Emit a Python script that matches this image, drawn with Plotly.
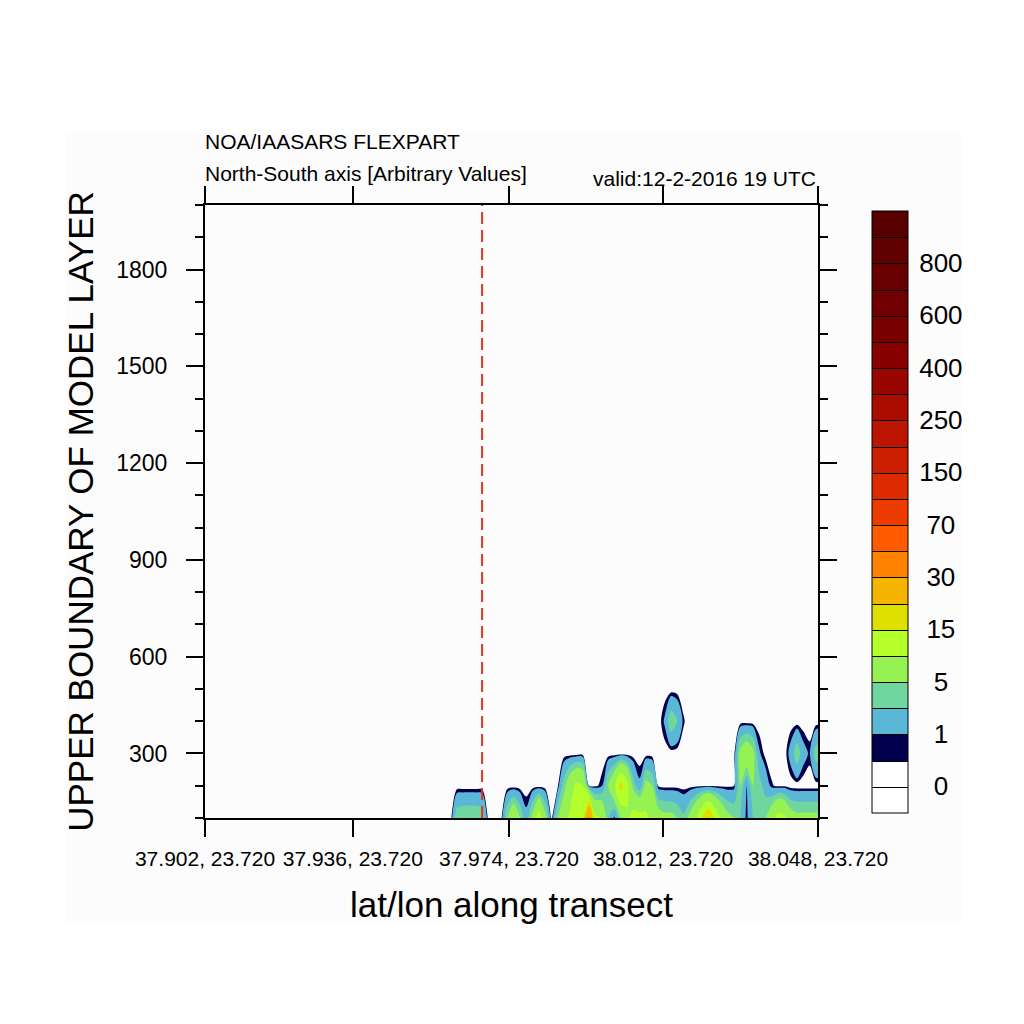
import numpy as np
import plotly.graph_objects as go

# FLEXPART vertical cross-section along a N-S transect (lon 23.720)
# concentration levels used for the shading and the colour of each band
levels = [0, 0.5, 1, 3, 5, 10, 15, 20, 30, 50, 70, 100, 150, 200, 250,
          300, 400, 500, 600, 700, 800, 900]
band_colors = ["#FFFFFF", "#FFFFFF", "#02004C", "#5AB8D6", "#6FD6A0", "#95F252",
               "#B5FF2A", "#E0E000", "#F5B400", "#FF8200", "#FF5A00", "#EE3C00",
               "#DD2A00", "#CC1E00", "#BB1400", "#AA0C00", "#990600", "#880000",
               "#7A0000", "#700000", "#680000", "#600000", "#580000"]
cbar_labels = ["0", "1", "5", "15", "30", "70", "150", "250", "400", "600", "800"]

# labelled transect points: printed lat/lon and the lat where each one sits
tick_text_lat = [37.902, 37.936, 37.974, 38.012, 38.048]
tick_lat = [37.902, 37.9372, 37.9744, 38.0111, 38.048]
lon_transect = 23.720
source_lat = 37.968  # dashed marker

# transect sampling (every 0.0015 deg lat), only the part that holds particles
transect_lat = np.round(37.959 + 0.0015 * np.arange(61), 4)
layer_top = [100, 200, 300, 400, 500]

conc_100 = [0, 0, 4.5, 4.8, 4.9, 4.8, 4.5, 0, 0, 0,
            5, 9, 5, 1.5, 6, 13, 6, 0, 5, 8,
            11, 13, 14, 32, 11, 10, 3, 0.6, 5, 9,
            12, 12, 11, 8, 7, 6, 6, 5, 3.5, 6,
            10, 16, 21, 14, 9, 6, 5, 3, 0.6, 3,
            4.5, 5, 8, 12, 11, 7, 6, 6, 6, 6,
            6]
conc_200 = [0, 0, 0, 0, 0, 0, 0, 0, 0, 0,
            0, 0, 0, 0, 0, 0, 0, 0, 0.3, 4,
            8, 11, 10, 0.3, 0.3, 0.8, 5, 9, 17, 12,
            4, 1.3, 6, 5, 0.3, 0.2, 0.2, 0.2, 0.1, 0.2,
            0.3, 0.3, 0.3, 0.3, 0.3, 0.3, 0.5, 5, 0.8, 5,
            4, 2, 0.6, 0.3, 0.3, 0, 0, 0, 0, 0,
            0]
conc_300 = [0, 0, 0, 0, 0, 0, 0, 0, 0, 0,
            0, 0, 0, 0, 0, 0, 0, 0, 0, 0,
            0, 0, 0, 0, 0, 0, 0, 0, 0, 0,
            0, 0, 0, 0, 0, 0, 0, 0, 0, 0,
            0, 0, 0, 0, 0, 0, 0, 6, 8, 6,
            1.2, 0.2, 0, 0, 0, 1.6, 4.5, 1.6, 0.8, 4,
            4.2]
conc_400 = [0, 0, 0, 0, 0, 0, 0, 0, 0, 0,
            0, 0, 0, 0, 0, 0, 0, 0, 0, 0,
            0, 0, 0, 0, 0, 0, 0, 0, 0, 0,
            0, 0, 0, 0, 0, 1.2, 4.5, 3.0, 0.6, 0,
            0, 0, 0, 0, 0, 0, 0, 0, 0, 0,
            0, 0, 0, 0, 0, 0, 0, 0, 0, 0,
            0]
conc_500 = [0] * 61

conc = np.array([conc_100, conc_200, conc_300, conc_400, conc_500])

FONT = "Liberation Sans, Arial, Helvetica, sans-serif"

fig = go.Figure()

# ── shaded bands: one constraint contour per level, stacked upwards ──
# (plotly shades the region that breaks the constraint, so "<" shades z >= level)
for lev, col in zip(levels[1:], band_colors[2:]):
    if conc.max() <= lev:
        break
    fig.add_trace(go.Contour(
        x=transect_lat, y=layer_top, z=conc,
        contours=dict(type="constraint", operation="<", value=lev),
        fillcolor=col, line=dict(width=0, smoothing=0.8),
        showscale=False, showlegend=False, hoverinfo="skip",
    ))

# ── colour bar: equal boxes per level, fed by a trace kept off the axes ──
n_bands = len(band_colors)
cscale = [[i / (n_bands - 1), c] for i, c in enumerate(band_colors)]
tick_idx = [levels.index(float(t)) + 1 for t in cbar_labels]
pad = {1: "\u00a0\u00a0", 2: "\u00a0", 3: ""}
fig.add_trace(go.Contour(
    x=[37.80, 37.81], y=[100, 200], z=[[1, len(levels)], [1, len(levels)]],
    autocontour=False, zauto=False, zmin=0, zmax=len(levels) + 1,
    contours=dict(start=1, end=len(levels), size=1, coloring="fill", showlines=True),
    colorscale=cscale, line=dict(color="black", width=1),
    hoverinfo="skip",
    colorbar=dict(
        x=1.088, xanchor="left", xpad=0, y=0.5, yanchor="middle", ypad=0,
        len=0.982, lenmode="fraction", thickness=36,
        outlinewidth=1, outlinecolor="black",
        tickmode="array", tickvals=tick_idx,
        ticktext=[pad[len(t)] + t for t in cbar_labels],
        ticks="outside", ticklen=6, tickcolor="rgba(0,0,0,0)",
        tickfont=dict(family=FONT, size=26, color="black"),
    ),
))

fig.add_vline(x=source_lat, line=dict(color="#E0341E", width=2, dash="12px,6px"))

# faint page frame behind the plot
fig.add_shape(type="rect", xref="paper", yref="paper",
              x0=-0.225, x1=1.235, y0=-0.17, y1=1.1175,
              fillcolor="#FCFCFC", line=dict(width=0), layer="below")

fig.add_annotation(text="NOA/IAASARS FLEXPART", xref="paper", yref="paper",
                   x=-0.004, y=1.103, xanchor="left", yanchor="middle", showarrow=False,
                   font=dict(family=FONT, size=21, color="black"))
fig.add_annotation(text="North-South axis [Arbitrary Values]", xref="paper", yref="paper",
                   x=-0.004, y=1.052, xanchor="left", yanchor="middle", showarrow=False,
                   font=dict(family=FONT, size=21, color="black"))
fig.add_annotation(text="valid:12-2-2016 19 UTC", xref="paper", yref="paper",
                   x=1, y=1.044, xanchor="right", yanchor="middle", showarrow=False,
                   font=dict(family=FONT, size=21, color="black"))

fig.update_xaxes(
    range=[tick_lat[0], tick_lat[-1]],
    tickmode="array", tickvals=tick_lat,
    ticktext=[f"{la:.3f}, {lon_transect:.3f}" for la in tick_text_lat],
    ticks="outside", ticklen=17, tickwidth=2, tickcolor="black",
    showline=True, linewidth=2, linecolor="black", mirror="ticks",
    showgrid=False, zeroline=False, ticklabelstandoff=4,
    tickfont=dict(family=FONT, size=21, color="black"),
    title=dict(text="lat/lon along transect", standoff=23,
               font=dict(family=FONT, size=35, color="black")),
)
fig.update_yaxes(
    range=[100, 2000], tick0=0, dtick=300,
    ticks="outside", ticklen=17, tickwidth=2, tickcolor="black",
    minor=dict(tick0=0, dtick=100, ticks="outside", ticklen=8,
               tickwidth=2, tickcolor="black"),
    showline=True, linewidth=2, linecolor="black", mirror="ticks",
    showgrid=False, zeroline=False, ticklabelstandoff=14,
    tickfont=dict(family=FONT, size=23, color="black"),
    title=dict(text="UPPER BOUNDARY OF MODEL LAYER", standoff=12,
               font=dict(family=FONT, size=35, color="black")),
)

# the page body adds an 8 px offset, so the left/top margins are 8 px smaller
fig.update_layout(
    width=1024, height=1024, autosize=False,
    margin=dict(l=197, r=214, t=197, b=214),
    paper_bgcolor="white", plot_bgcolor="white",
    showlegend=False,
    font=dict(family=FONT, color="black"),
)

fig.write_html("out.html")
